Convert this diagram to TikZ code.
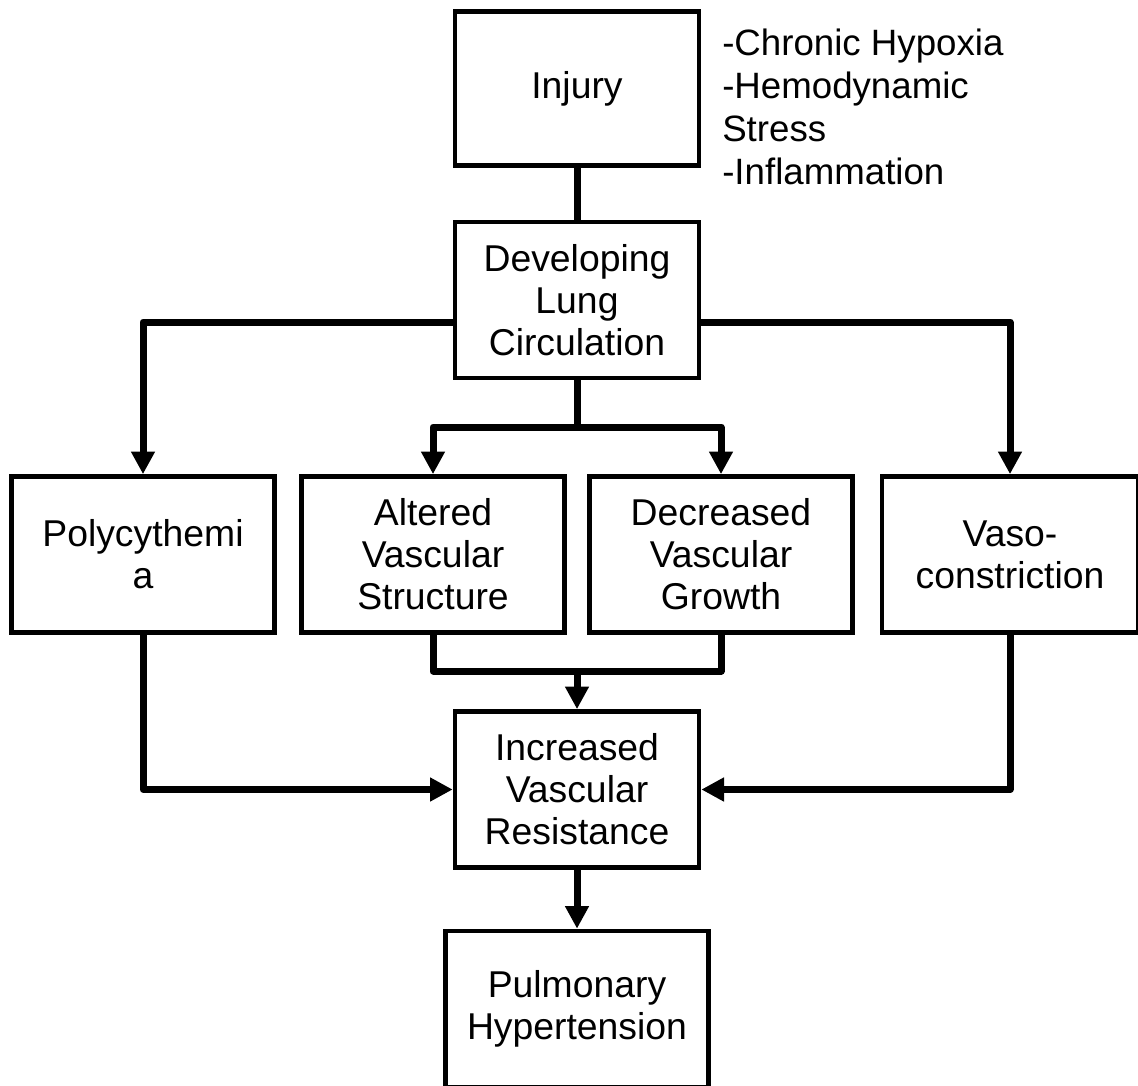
\documentclass[tikz,border=0pt]{standalone}
\usepackage{fontspec}
\setmainfont{Liberation Sans}
\usepackage{tikz}
\usetikzlibrary{
    positioning,
    arrows.meta
}

\begin{document}
\begin{tikzpicture}[
      x=0.75pt, y=-0.75pt,
      box/.style={draw, line width=3.5pt, inner sep=2pt, minimum height=117pt, align=center, font=\fontsize{28}{31.5}\selectfont},
      narrow/.style={box, minimum width=183pt},
      wide/.style={box, minimum width=197pt},
      link/.style={line width=5.25pt, line join=round},
      arrow/.style={link, -{Triangle[length=17pt, width=17pt]}}
    ]
    \useasboundingbox (0,0) rectangle (1138,1085);

    \node[narrow, minimum height=115.5pt] (inj) at (577,88.5) {Injury};
    \node[anchor=north west, inner sep=0pt, align=left, font=\fontsize{27.5}{32.25}\selectfont] (causes) at (722,29)
      {-Chronic Hypoxia\\-Hemodynamic\\Stress\\-Inflammation};
    \node[narrow] (dev) at (577,300) {Developing\\Lung\\Circulation};

    \node[wide] (poly) at (143,554.5) {Polycythemi\\a};
    \node[wide] (alt) at (433,554.5) {Altered\\Vascular\\Structure};
    \node[wide] (dec) at (721,554.5) {Decreased\\Vascular\\Growth};
    \node[box, minimum width=192pt] (vaso) at (1010,554.5) {Vaso-\\constriction};

    \node[narrow] (res) at (577,789.5) {Increased\\Vascular\\Resistance};
    \node[wide] (ph) at (577,1009) {Pulmonary\\Hypertension};

    \coordinate (split) at (577,427);
    \coordinate (join) at (577,671);

    \draw[link] (inj) -- (dev);
    \draw[arrow] ([yshift=-16.5pt]dev.west) -| (poly);
    \draw[arrow] ([yshift=-16.5pt]dev.east) -| (vaso);
    \draw[arrow] (dev) -- (split) -| (alt);
    \draw[arrow] (split) -| (dec);

    \draw[link] (alt) |- (join);
    \draw[link] (dec) |- (join);
    \draw[arrow] (join) -- (res);
    \draw[arrow] (poly) |- (res);
    \draw[arrow] (vaso) |- (res);
    \draw[arrow] (res) -- (ph);
  \end{tikzpicture}
\end{document}
